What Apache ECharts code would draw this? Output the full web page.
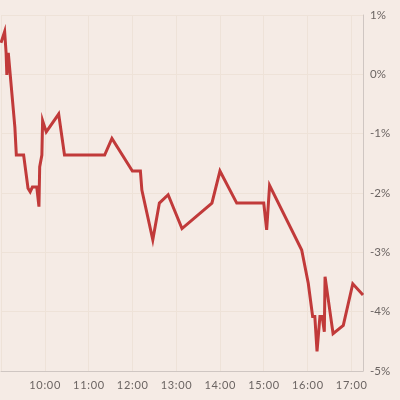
<!DOCTYPE html>
<html><head><meta charset="utf-8">
<script src="https://cdn.jsdelivr.net/npm/echarts@6/dist/echarts.min.js"></script>
<style>html,body{margin:0;padding:0;background:#f5ebe5}#c{width:400px;height:400px}</style>
</head><body><div id="c"></div>
<script>
// time in minutes since midnight
const times = [540,545,547,548,550,559,561,571,577,580,583,589,592,593,596,597,602,619,627,682,692,720,731,733,748,757,769,788,829,831,840,863,900,904,908,952,961,967,970,973,977,980,983,984,995,1009,1022,1036];
const values = [0.53,0.72,0.36,-0.01,0.36,-0.89,-1.36,-1.36,-1.92,-1.98,-1.90,-1.90,-2.23,-1.56,-1.36,-0.78,-0.97,-0.67,-1.36,-1.36,-1.08,-1.63,-1.63,-1.95,-2.79,-2.17,-2.03,-2.60,-2.17,-2.17,-1.63,-2.17,-2.17,-2.62,-1.87,-2.96,-3.52,-4.08,-4.08,-4.67,-4.08,-4.08,-4.34,-3.41,-4.37,-4.23,-3.53,-3.72];
const yTicks = [-5,-4,-3,-2,-1,0,1];

const data = times.map((t,i)=>[t, values[i]]);
const chart = echarts.init(document.getElementById('c'));
chart.setOption({
  backgroundColor:'#f5ebe5',
  animation:false,
  grid:{left:1,right:37,top:15,bottom:29},
  xAxis:{type:'value',min:540,max:1036,interval:60,
    axisLine:{show:true,onZero:false,lineStyle:{color:'#cfc6c2',width:1}},
    axisTick:{show:false},
    splitLine:{show:true,lineStyle:{color:'#eee2d8',width:1}},
    axisLabel:{showMinLabel:false,showMaxLabel:false,margin:9,color:'#6b6462',fontFamily:'Lato',fontSize:11,
      formatter:v=>{const h=Math.floor(v/60),m=v%60;return v===540?'':(h+':'+(m<10?'0':'')+m).split('').join('\u200a');}}
  },
  yAxis:{type:'value',position:'right',min:yTicks[0],max:yTicks[yTicks.length-1],interval:1,
    axisLine:{show:true,onZero:false,lineStyle:{color:'#cfc6c2',width:1}},
    axisTick:{show:false},
    splitLine:{show:true,lineStyle:{color:'#eee2d8',width:1}},
    axisLabel:{margin:7,color:'#6b6462',fontFamily:'Lato',fontSize:11.5,formatter:'{value}%'}
  },
  series:[{type:'line',data:data,showSymbol:false,symbol:'none',
    lineStyle:{color:'#c13a3a',width:3,join:'miter'}}]
});
</script></body></html>
